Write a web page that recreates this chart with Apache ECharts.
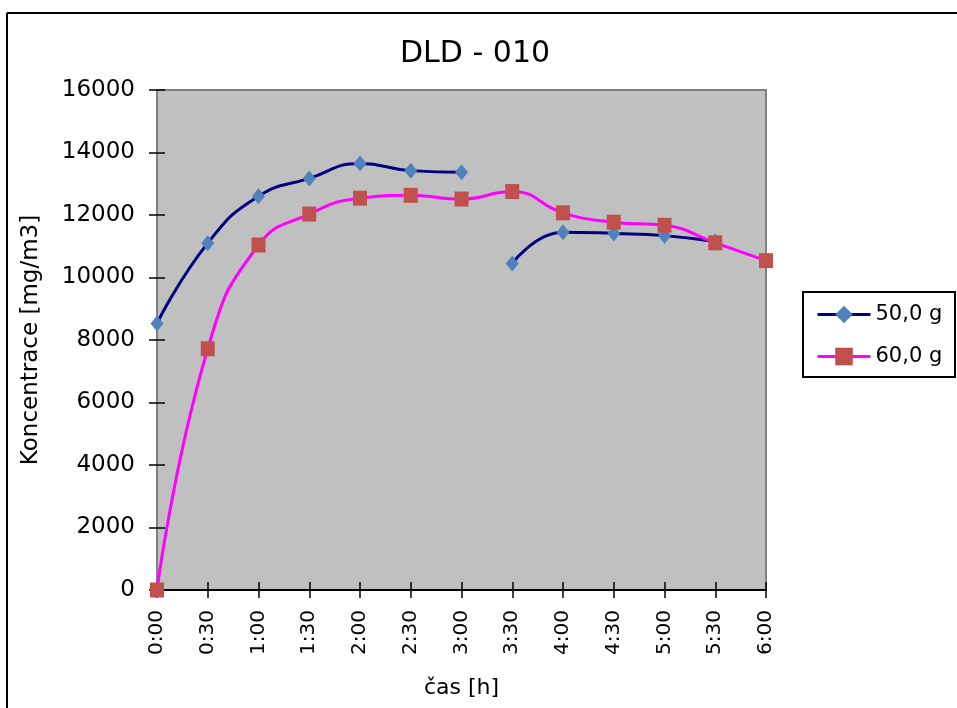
<!DOCTYPE html>
<html>
<head>
<meta charset="utf-8">
<script src="https://cdn.jsdelivr.net/npm/echarts@6/dist/echarts.min.js"></script>
<style>html,body{margin:0;padding:0;background:#fff;}#main{width:957px;height:708px;}</style>
</head>
<body>
<div id="main"></div>
<script>
const categories = ['0:00','0:30','1:00','1:30','2:00','2:30','3:00','3:30','4:00','4:30','5:00','5:30','6:00'];
// 50,0 g — two separate measured segments
const blueSeg1 = [8530, 11100, 12600, 13170, 13650, 13420, 13370, null, null, null, null, null, null];
const blueSeg2 = [null, null, null, null, null, null, null, 10450, 11450, 11410, 11340, 11150, null];
// 60,0 g
const redVals = [0, 7720, 11040, 12030, 12540, 12630, 12510, 12750, 12070, 11770, 11670, 11110, 10540];
const yTicks = {min: 0, max: 16000, interval: 2000};
const seriesNames = ['50,0 g', '60,0 g'];

const FONT = 'DejaVu Sans, Arial, sans-serif';
const chart = echarts.init(document.getElementById('main'), null, {renderer: 'canvas'});
const gridPos = {left: 157, right: 191, top: 90, bottom: 118};

const option = {
  animation: false,
  backgroundColor: '#ffffff',
  textStyle: {fontFamily: FONT, color: '#000'},
  title: {
    text: 'DLD - 010', left: 395, top: 34,
    textStyle: {fontSize: 30, fontWeight: 'normal', color: '#000', fontFamily: FONT}
  },
  legend: {
    orient: 'vertical', left: 811, top: 299,
    itemWidth: 53, itemHeight: 22, itemGap: 21,
    lineStyle: {width: 3},
    textStyle: {fontSize: 21, color: '#000', fontFamily: FONT},
    data: seriesNames
  },
  grid: [
    Object.assign({show: true, backgroundColor: '#C0C0C0', borderColor: '#808080', borderWidth: 2}, gridPos),
    Object.assign({show: false}, gridPos)
  ],
  xAxis: [
    {
      type: 'category', gridIndex: 0, data: categories, boundaryGap: false,
      axisLine: {lineStyle: {color: '#000', width: 2}},
      axisTick: {show: true, length: 8, interval: 0, lineStyle: {color: '#000', width: 1.5}},
      axisLabel: {rotate: 90, interval: 0, fontSize: 20, margin: 20, color: '#000', fontFamily: FONT},
      splitLine: {show: false},
      name: 'čas [h]', nameLocation: 'middle', nameGap: 87,
      nameTextStyle: {fontSize: 22, color: '#000', fontFamily: FONT}
    },
    {
      type: 'category', gridIndex: 1, data: categories, boundaryGap: false,
      axisLine: {show: false},
      axisTick: {show: true, inside: true, length: 8, interval: 0, lineStyle: {color: '#000', width: 1.5}},
      axisLabel: {show: false}, splitLine: {show: false}
    }
  ],
  yAxis: [
    {
      type: 'value', gridIndex: 0, min: yTicks.min, max: yTicks.max, interval: yTicks.interval,
      axisLine: {show: true, lineStyle: {color: '#808080', width: 2}},
      axisTick: {show: true, length: 8, lineStyle: {color: '#000', width: 1.5}},
      axisLabel: {fontSize: 23, margin: 22, color: '#000', fontFamily: FONT, formatter: function (v) { return String(v); }},
      splitLine: {show: false},
      name: 'Koncentrace [mg/m3]', nameLocation: 'middle', nameGap: 114,
      nameTextStyle: {fontSize: 23, color: '#000', fontFamily: FONT}
    },
    {
      type: 'value', gridIndex: 1, min: yTicks.min, max: yTicks.max, interval: yTicks.interval,
      axisLine: {show: false},
      axisTick: {show: true, inside: true, length: 8, lineStyle: {color: '#000', width: 1.5}},
      axisLabel: {show: false}, splitLine: {show: false}
    }
  ],
  graphic: [
    {type: 'line', shape: {x1: 7, y1: 13, x2: 957, y2: 13}, style: {stroke: '#000', lineWidth: 2}, silent: true},
    {type: 'line', shape: {x1: 7, y1: 13, x2: 7, y2: 708}, style: {stroke: '#000', lineWidth: 2}, silent: true},
    {type: 'rect', shape: {x: 803, y: 292, width: 152, height: 85}, style: {fill: 'none', stroke: '#000', lineWidth: 2}, silent: true}
  ],
  series: [
    {
      name: seriesNames[0], type: 'line', xAxisIndex: 0, yAxisIndex: 0, data: blueSeg1,
      smooth: 0.5, connectNulls: false, symbol: 'diamond', symbolSize: [13, 16],
      itemStyle: {color: '#4F81BD'}, lineStyle: {color: '#000080', width: 3}, z: 2
    },
    {
      name: seriesNames[0], type: 'line', xAxisIndex: 0, yAxisIndex: 0, data: blueSeg2,
      smooth: 0.5, connectNulls: false, symbol: 'diamond', symbolSize: [13, 16],
      itemStyle: {color: '#4F81BD'}, lineStyle: {color: '#000080', width: 3}, z: 2
    },
    {
      name: seriesNames[1], type: 'line', xAxisIndex: 0, yAxisIndex: 0, data: redVals,
      smooth: 0.5, symbol: 'rect', symbolSize: [14, 15],
      itemStyle: {color: '#C0504D'}, lineStyle: {color: '#FF00FF', width: 3}, z: 3
    }
  ]
};
chart.setOption(option);
</script>
</body>
</html>
